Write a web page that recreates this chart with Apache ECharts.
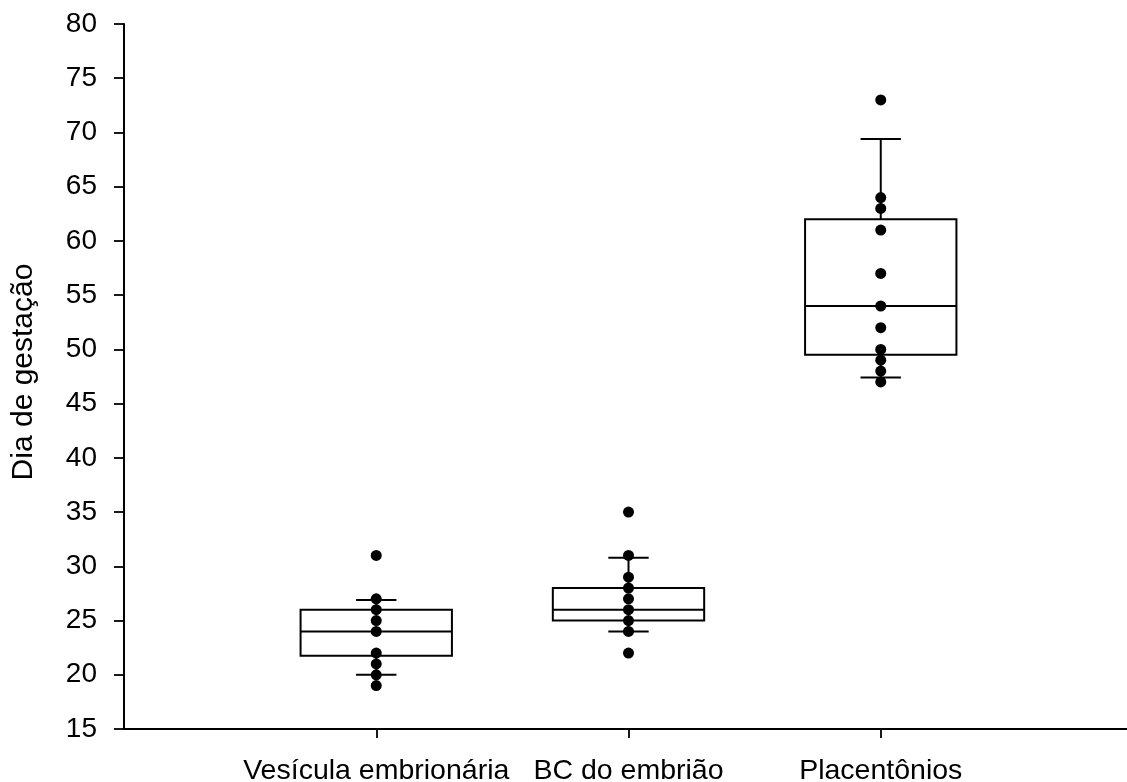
<!DOCTYPE html>
<html>
<head>
<meta charset="utf-8">
<script src="https://cdn.jsdelivr.net/npm/echarts@6/dist/echarts.min.js"></script>
<style>
html,body{margin:0;padding:0;background:#fff;}
#c{width:1127px;height:782px;}
</style>
</head>
<body>
<div id="c"></div>
<script>
// Categories (padded with blank ends so positions sit at 1,2,3 of 0..4)
const categories = ['Vesícula embrionária', 'BC do embrião', 'Placentônios'];
// Box statistics: [lower whisker, Q1, median, Q3, upper whisker]
const boxVesicula = [20, 21.75, 24, 26, 26.9];
const boxBC = [24, 25, 26, 28, 30.8];
const boxPlacentonios = [47.4, 49.5, 54, 62, 69.4];
// Individual observations
const ptsVesicula = [31, 27, 26, 25, 24, 22, 21, 20, 19];
const ptsBC = [35, 31, 29, 28, 27, 26, 25, 24, 22];
const ptsPlacentonios = [73, 64, 63, 61, 57, 54, 52, 50, 49, 48, 47];
// Y axis ticks
const yMin = 15, yMax = 80, yStep = 5;

const axisCats = [''].concat(categories, ['']);
const boxes = [boxVesicula, boxBC, boxPlacentonios];
const pts = [ptsVesicula, ptsBC, ptsPlacentonios];

const boxData = boxes.map((b, i) => [i + 1].concat(b));
const scatterData = [];
pts.forEach((arr, i) => arr.forEach(v => scatterData.push([i + 1, v])));

const FONT = '"Liberation Sans", Arial, sans-serif';
const chart = echarts.init(document.getElementById('c'), null, {renderer: 'canvas'});

chart.setOption({
  animation: false,
  backgroundColor: '#fff',
  grid: {left: 124, top: 24, bottom: 53, width: 1009, containLabel: false, outerBoundsMode: 'none'},
  xAxis: {
    type: 'category',
    data: axisCats,
    boundaryGap: false,
    axisLine: {lineStyle: {color: '#000', width: 2}},
    axisTick: {show: true, length: 9, lineStyle: {color: '#000', width: 1.8},
      interval: (idx) => idx > 0 && idx < axisCats.length - 1},
    axisLabel: {color: '#000', fontFamily: FONT, fontSize: 28.5, margin: 28,
      interval: (idx) => idx > 0 && idx < axisCats.length - 1},
    splitLine: {show: false}
  },
  yAxis: {
    type: 'value',
    min: yMin, max: yMax, interval: yStep,
    name: 'Dia de gestação',
    nameLocation: 'middle',
    nameRotate: 90,
    nameGap: 85,
    nameTextStyle: {color: '#000', fontFamily: FONT, fontSize: 30, padding: [0, 0, 0, 9]},
    axisLine: {show: true, lineStyle: {color: '#000', width: 2}},
    axisTick: {show: true, length: 10, lineStyle: {color: '#000', width: 1.8}},
    axisLabel: {color: '#000', fontFamily: FONT, fontSize: 28, margin: 27},
    splitLine: {show: false}
  },
  series: [
    {
      type: 'custom',
      data: boxData,
      z: 2,
      renderItem: function (params, api) {
        const x = api.value(0);
        const lo = api.coord([x, api.value(1)]);
        const q1 = api.coord([x, api.value(2)]);
        const md = api.coord([x, api.value(3)]);
        const q3 = api.coord([x, api.value(4)]);
        const hi = api.coord([x, api.value(5)]);
        const band = api.size([1, 0])[0];
        const hw = band * 0.3;
        const cw = band * 0.08;
        const cx = lo[0];
        const st = {stroke: '#000', lineWidth: 2, fill: null};
        return {
          type: 'group',
          children: [
            {type: 'line', shape: {x1: cx, y1: q3[1], x2: cx, y2: hi[1]}, style: st},
            {type: 'line', shape: {x1: cx, y1: q1[1], x2: cx, y2: lo[1]}, style: st},
            {type: 'line', shape: {x1: cx - cw, y1: hi[1], x2: cx + cw, y2: hi[1]}, style: st},
            {type: 'line', shape: {x1: cx - cw, y1: lo[1], x2: cx + cw, y2: lo[1]}, style: st},
            {type: 'rect', shape: {x: cx - hw, y: q3[1], width: hw * 2, height: q1[1] - q3[1]},
              style: {stroke: '#000', lineWidth: 2, fill: '#fff'}},
            {type: 'line', shape: {x1: cx - hw, y1: md[1], x2: cx + hw, y2: md[1]}, style: st}
          ]
        };
      }
    },
    {
      type: 'scatter',
      data: scatterData,
      symbol: 'circle',
      symbolSize: 11,
      z: 5,
      itemStyle: {color: '#000', opacity: 1}
    }
  ]
});
</script>
</body>
</html>
